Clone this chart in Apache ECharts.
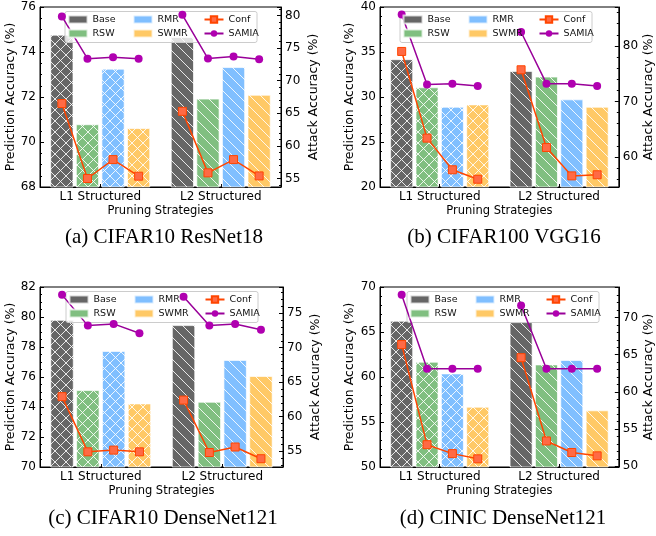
<!DOCTYPE html>
<html>
<head>
    <meta charset="utf-8">
    <script src="https://cdn.jsdelivr.net/npm/echarts@6/dist/echarts.min.js"></script>
</head>
<body style="margin: 0">
<div id="container" style="width: 656px; height: 536px"></div>
<script>
var categories = ['L1 Structured', 'L2 Structured'];
var barNames = ['Base', 'RSW', 'RMR', 'SWMR'];
var captions = ['(a) CIFAR10 ResNet18', '(b) CIFAR100 VGG16', '(c) CIFAR10 DenseNet121', '(d) CINIC DenseNet121'];

// prediction accuracy: rows Base, RSW, RMR, SWMR; columns L1, L2
var predA = [[74.77, 74.67], [70.79, 71.93], [73.26, 73.33], [70.62, 72.10]];
var predB = [[34.2, 32.9], [31.08, 32.27], [28.92, 29.74], [29.18, 28.92]];
var predC = [[79.81, 79.46], [75.13, 74.35], [77.74, 77.14], [74.24, 76.07]];
var predD = [[66.25, 66.1], [61.7, 61.4], [60.4, 61.9], [56.7, 56.3]];

// attack accuracy: rows L1, L2; columns Base, RSW, RMR, SWMR
var confA = [[66.5, 55.0, 57.9, 55.36], [65.3, 55.87, 57.9, 55.4]];
var samiaA = [[79.85, 73.37, 73.6, 73.37], [80.1, 73.4, 73.7, 73.3]];
var confB = [[79.0, 63.4, 57.7, 56.0], [75.7, 61.7, 56.6, 56.8]];
var samiaB = [[85.66, 73.07, 73.2, 72.77], [82.5, 73.2, 73.2, 72.8]];
var confC = [[62.9, 54.9, 55.15, 54.9], [62.4, 54.8, 55.6, 53.9]];
var samiaC = [[77.66, 73.2, 73.45, 72.1], [77.4, 73.2, 73.45, 72.6]];
var confD = [[66.36, 52.9, 51.7, 51.0], [64.6, 53.4, 51.85, 51.4]];
var samiaD = [[73.06, 63.1, 63.1, 63.1], [71.6, 63.1, 63.1, 63.1]];

var barColors = ['#666666', '#80bf80', '#80bfff', '#ffc966'];
var font = 'DejaVu Sans';

var panels = [
    {pred: predA, conf: confA, samia: samiaA, grid: [40, 7, 241, 180], left: [68, 76, 2, 4], right: [53.7, 81.3, 5, 5], lg: 22, rg: 26, cap: [164, 237], lx: 0},
    {pred: predB, conf: confB, samia: samiaB, grid: [380, 7, 245, 180], left: [20, 40, 5, 5], right: [54.6, 87.0, 10, 5], lg: 24, rg: 23, cap: [504, 237], lx: -7},
    {pred: predC, conf: confC, samia: samiaC, grid: [40, 287, 243, 180], left: [70, 82, 2, 4], right: [52.7, 78.8, 5, 5], lg: 22, rg: 26, cap: [163, 518], lx: 0},
    {pred: predD, conf: confD, samia: samiaD, grid: [380, 287, 245, 180], left: [50, 70, 5, 5], right: [49.9, 74.1, 5, 5], lg: 24, rg: 23, cap: [503, 518], lx: 0}
];

function hatch(bg, cross) {
    var s = 11, c = document.createElement('canvas');
    c.width = s; c.height = s;
    var ctx = c.getContext('2d');
    ctx.fillStyle = bg;
    ctx.fillRect(0, 0, s, s);
    ctx.strokeStyle = 'rgba(255,255,255,0.85)';
    ctx.lineWidth = 1;
    ctx.beginPath();
    for (var k = -s; k <= s; k += s) {
        ctx.moveTo(k, 0); ctx.lineTo(k + s, s);
        if (cross) { ctx.moveTo(k + s, 0); ctx.lineTo(k, s); }
    }
    ctx.stroke();
    return {image: c, repeat: 'repeat'};
}

// bar layout, used to put line points at bar centres
var catGap = 0.17, barGap = 0.1;
function barX(cat, i) {
    var bw = (1 - catGap) / (4 + 3 * barGap);
    return cat + 0.5 - (1 - catGap) / 2 + bw / 2 + i * bw * (1 + barGap);
}

var axisText = {color: '#000', fontSize: 12, fontFamily: font};
var black = {lineStyle: {color: '#000', width: 1}};

var grids = [], xAxes = [], yAxes = [], series = [], legends = [], graphics = [];

panels.forEach(function (p, pi) {
    grids.push({left: p.grid[0], top: p.grid[1], width: p.grid[2], height: p.grid[3],
        show: true, borderColor: '#000', borderWidth: 1});
    xAxes.push({
        type: 'category', gridIndex: pi, data: categories,
        axisLine: black, axisTick: {show: true, inside: true, alignWithLabel: true, length: 3, lineStyle: {color: '#000'}},
        axisLabel: Object.assign({margin: 4}, axisText),
        name: 'Pruning Strategies', nameLocation: 'middle', nameGap: 18,
        nameTextStyle: {fontSize: 11.5, color: '#000', fontFamily: font}
    });
    xAxes.push({type: 'value', gridIndex: pi, min: 0, max: 2, show: false});
    yAxes.push({
        type: 'value', gridIndex: pi, position: 'left',
        min: p.left[0], max: p.left[1], interval: p.left[2],
        axisLine: Object.assign({show: true}, black),
        axisTick: {show: true, inside: true, length: 4, lineStyle: {color: '#000'}},
        minorTick: {show: true, splitNumber: p.left[3], length: 2, lineStyle: {color: '#000'}},
        splitLine: {show: false},
        axisLabel: Object.assign({margin: 4}, axisText),
        name: 'Prediction Accuracy (%)', nameLocation: 'middle', nameGap: p.lg,
        nameTextStyle: {fontSize: 12.5, color: '#000', fontFamily: font}
    });
    var step = p.right[2];
    yAxes.push({
        type: 'value', gridIndex: pi, position: 'right',
        min: p.right[0], max: p.right[1], minInterval: step, maxInterval: step,
        axisLine: Object.assign({show: true}, black),
        axisTick: {show: true, inside: true, length: 4, lineStyle: {color: '#000'}},
        minorTick: {show: true, splitNumber: p.right[3], length: 2, lineStyle: {color: '#000'}},
        splitLine: {show: false},
        axisLabel: Object.assign({margin: 4, formatter: function (v) {
            return Math.abs(v - Math.round(v / step) * step) < 1e-6 ? String(Math.round(v)) : '';
        }}, axisText),
        name: 'Attack Accuracy (%)', nameLocation: 'middle', nameGap: p.rg,
        nameTextStyle: {fontSize: 12.5, color: '#000', fontFamily: font}
    });

    barNames.forEach(function (name, i) {
        series.push({
            type: 'bar', name: name, xAxisIndex: 2 * pi, yAxisIndex: 2 * pi,
            barCategoryGap: (catGap * 100) + '%', barGap: (barGap * 100) + '%',
            itemStyle: {color: barColors[i], borderColor: 'rgba(255,255,255,0.7)', borderWidth: 1},
            data: p.pred[i].map(function (v, c) {
                return {value: v, itemStyle: {color: hatch(barColors[i], c === 0)}};
            }),
            z: 2
        });
    });

    [0, 1].forEach(function (c) {
        series.push({
            type: 'line', name: 'Conf', xAxisIndex: 2 * pi + 1, yAxisIndex: 2 * pi + 1,
            symbol: 'rect', symbolSize: 8,
            itemStyle: {color: '#ff6a45', borderColor: '#ff4500', borderWidth: 1},
            lineStyle: {color: '#ff4500', width: 1.5},
            data: p.conf[c].map(function (v, i) { return [barX(c, i), v]; }),
            z: 5
        });
        series.push({
            type: 'line', name: 'SAMIA', xAxisIndex: 2 * pi + 1, yAxisIndex: 2 * pi + 1,
            symbol: 'circle', symbolSize: 8,
            itemStyle: {color: '#b000b0'},
            lineStyle: {color: '#990099', width: 1.5},
            data: p.samia[c].map(function (v, i) { return [barX(c, i), v]; }),
            z: 5
        });
    });

    // legend box + three columns
    var bx = p.grid[0] + p.grid[2] / 2 - 96 + p.lx, by = p.grid[1] + 4;
    graphics.push({type: 'rect', left: bx, top: by, z: 3,
        shape: {width: 192, height: 31, r: 2},
        style: {fill: 'rgba(255,255,255,0.8)', stroke: '#cccccc', lineWidth: 1}});
    var cols = [[{name: 'Base', icon: 'rect'}, {name: 'RSW', icon: 'rect'}],
                [{name: 'RMR', icon: 'rect'}, {name: 'SWMR', icon: 'rect'}],
                ['Conf', 'SAMIA']];
    var offs = [3, 68, 139];
    cols.forEach(function (d, k) {
        legends.push({
            data: d, orient: 'vertical', left: bx + offs[k], top: by + 3.5,
            itemWidth: 19, itemHeight: 8, itemGap: 4, padding: 0, z: 6,
            textStyle: {fontSize: 9.5, lineHeight: 10, color: '#111', fontFamily: font}
        });
    });

    graphics.push({type: 'text', x: p.cap[0], y: p.cap[1],
        style: {text: captions[pi], fill: '#000', font: '21px "Liberation Serif"',
            textAlign: 'center', textVerticalAlign: 'middle'}});
});

var myChart = echarts.init(document.getElementById('container'));
myChart.setOption({
    animation: false,
    grid: grids,
    xAxis: xAxes,
    yAxis: yAxes,
    legend: legends,
    series: series,
    graphic: graphics
});
</script>
</body>
</html>
